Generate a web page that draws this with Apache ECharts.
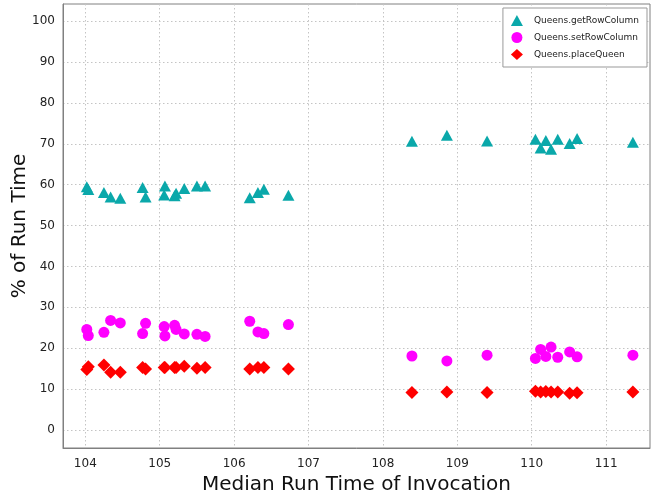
<!DOCTYPE html>
<html>
<head>
<meta charset="utf-8">
<title>Queens profile</title>
<script src="https://cdn.jsdelivr.net/npm/echarts@6/dist/echarts.min.js"></script>
<style>
  html, body { margin: 0; padding: 0; background: #fff; }
  #chart { width: 652px; height: 496px; }
</style>
</head>
<body>
<div id="chart"></div>
<script>
// Median run time of each invocation (x) and share of run time per method (y)
const medianRunTime = [104.02, 104.04, 104.25, 104.34, 104.47, 104.77, 104.81, 105.06, 105.07, 105.20, 105.22, 105.33, 105.50, 105.61, 106.21, 106.32, 106.40, 106.73,
  108.39, 108.86, 109.40, 110.05, 110.12, 110.19, 110.26, 110.35, 110.51, 110.61, 111.36];
const getRowColumn = [59.5, 58.8, 58.1, 57.0, 56.7, 59.3, 57.0, 57.5, 59.7, 57.3, 57.9, 59.1, 59.7, 59.7, 56.8, 58.1, 58.9, 57.4,
  70.6, 72.1, 70.7, 71.1, 69.0, 70.8, 68.7, 71.1, 70.1, 71.3, 70.4];
const setRowColumn = [24.6, 23.1, 23.9, 26.8, 26.2, 23.6, 26.1, 25.3, 23.0, 25.6, 24.6, 23.5, 23.4, 22.9, 26.6, 24.0, 23.6, 25.8,
  18.1, 16.9, 18.3, 17.5, 19.7, 18.0, 20.3, 17.8, 19.1, 17.9, 18.3];
const placeQueen = [14.8, 15.5, 15.9, 14.1, 14.1, 15.3, 14.9, 15.3, 15.3, 15.3, 15.3, 15.6, 15.1, 15.3, 14.9, 15.3, 15.3, 14.9,
  9.2, 9.3, 9.2, 9.5, 9.3, 9.4, 9.3, 9.3, 9.0, 9.1, 9.3];

const seriesNames = ['Queens.getRowColumn', 'Queens.setRowColumn', 'Queens.placeQueen'];
const xTicks = [104, 105, 106, 107, 108, 109, 110, 111];
const yTicks = [0, 10, 20, 30, 40, 50, 60, 70, 80, 90, 100];

const FONT = 'DejaVu Sans';
const pairs = ys => medianRunTime.map((x, i) => [x, ys[i]]);
const gridLine = { show: true, lineStyle: { color: '#c4c4c4', type: [1.5, 2.5], width: 1 } };

const chart = echarts.init(document.getElementById('chart'), null, { renderer: 'canvas' });
chart.setOption({
  animation: false,
  backgroundColor: '#ffffff',
  textStyle: { fontFamily: FONT },
  grid: {
    left: 63, right: 2, top: 4, bottom: 48,
    outerBoundsMode: 'none', containLabel: false,
    show: true, borderColor: '#808080', borderWidth: 1, backgroundColor: 'transparent'
  },
  xAxis: {
    type: 'value', min: 103.7, max: 111.59,
    name: 'Median Run Time of Invocation', nameLocation: 'middle', nameGap: 27,
    nameTextStyle: { fontFamily: FONT, fontSize: 20, color: '#111' },
    axisLine: { show: true, onZero: false, lineStyle: { color: '#808080' } },
    axisTick: { show: false, customValues: xTicks },
    axisLabel: { customValues: xTicks, fontFamily: FONT, fontSize: 12, color: '#222', margin: 10 },
    splitLine: gridLine
  },
  yAxis: {
    type: 'value', min: -4.4, max: 104.2,
    name: '% of Run Time', nameLocation: 'middle', nameGap: 33, nameRotate: 90,
    nameMoveOverlap: false,
    nameTextStyle: { fontFamily: FONT, fontSize: 20, color: '#111' },
    axisLine: { show: true, onZero: false, lineStyle: { color: '#808080' } },
    axisTick: { show: false, customValues: yTicks },
    axisLabel: { customValues: yTicks, fontFamily: FONT, fontSize: 12, color: '#222', margin: 8 },
    splitLine: gridLine
  },
  legend: {
    orient: 'vertical', right: 5, top: 8,
    backgroundColor: '#fff', borderColor: '#999', borderWidth: 1,
    padding: [7, 8, 7, 8], itemGap: 6, itemWidth: 12, itemHeight: 11,
    textStyle: { fontFamily: FONT, fontSize: 9, color: '#222', padding: [0, 0, 0, 6] },
    data: [
      { name: seriesNames[0], icon: 'triangle' },
      { name: seriesNames[1], icon: 'circle' },
      { name: seriesNames[2], icon: 'diamond' }
    ]
  },
  series: [
    { name: seriesNames[0], type: 'scatter', symbol: 'triangle', symbolSize: [12, 11],
      itemStyle: { color: '#0aa8aa', opacity: 1 }, data: pairs(getRowColumn) },
    { name: seriesNames[1], type: 'scatter', symbol: 'circle', symbolSize: 11,
      itemStyle: { color: '#ff00ff', opacity: 1 }, data: pairs(setRowColumn) },
    { name: seriesNames[2], type: 'scatter', symbol: 'diamond', symbolSize: [13, 13],
      itemStyle: { color: '#ff0000', opacity: 1 }, data: pairs(placeQueen) }
  ]
});
</script>
</body>
</html>
